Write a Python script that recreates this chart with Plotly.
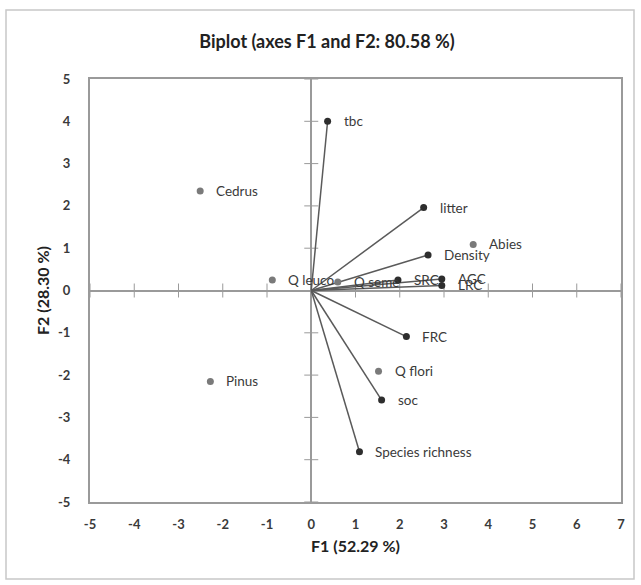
import plotly.graph_objects as go

# Variables (vectors from origin)
var_names = ["tbc", "litter", "Density", "SRC", "AGC", "LRC", "FRC", "soc", "Species richness"]
var_f1 = [0.37, 2.54, 2.64, 1.96, 2.95, 2.95, 2.15, 1.59, 1.09]
var_f2 = [4.00, 1.96, 0.84, 0.25, 0.27, 0.12, -1.09, -2.59, -3.81]

# Observations
obs_names = ["Cedrus", "Abies", "Q leuco", "Q seme", "Q flori", "Pinus"]
obs_f1 = [-2.51, 3.66, -0.88, 0.60, 1.52, -2.28]
obs_f2 = [2.35, 1.09, 0.25, 0.20, -1.91, -2.15]

x_ticks = list(range(-5, 8))
x_tick_labels = [str(v) for v in x_ticks]
y_ticks = list(range(-5, 6))
y_tick_labels = [str(v) for v in y_ticks]

title_text = "Biplot (axes F1 and F2: 80.58 %)"
x_title = "F1 (52.29 %)"
y_title = "F2 (28.30 %)"

FONT = "Lato"
AXIS_GREY = "#9a9a9a"
TXT = "#3a3a3a"

fig = go.Figure()

# tick crosses on zero lines
fig.add_trace(go.Scatter(x=[0] * len(y_ticks), y=y_ticks, mode="markers",
                         marker=dict(symbol="line-ew", size=10, line=dict(color=AXIS_GREY, width=1)),
                         hoverinfo="skip", showlegend=False))
fig.add_trace(go.Scatter(x=x_ticks, y=[0] * len(x_ticks), mode="markers",
                         marker=dict(symbol="line-ns", size=10, line=dict(color=AXIS_GREY, width=1)),
                         hoverinfo="skip", showlegend=False))

# vector lines
for n, a, b in zip(var_names, var_f1, var_f2):
    fig.add_trace(go.Scatter(x=[0, a], y=[0, b], mode="lines",
                             line=dict(color="#5a5a5a", width=1.5),
                             hoverinfo="skip", showlegend=False))

fig.add_trace(go.Scatter(x=obs_f1, y=obs_f2, mode="markers",
                         marker=dict(color="#7a7a7a", size=7),
                         text=obs_names, showlegend=False))
fig.add_trace(go.Scatter(x=var_f1, y=var_f2, mode="markers",
                         marker=dict(color="#2e2e2e", size=7),
                         text=var_names, showlegend=False))

for n, a, b in list(zip(var_names, var_f1, var_f2)) + list(zip(obs_names, obs_f1, obs_f2)):
    fig.add_annotation(x=a, y=b, text=n, showarrow=False, xanchor="left",
                       xshift=14, yshift=0, font=dict(family=FONT, size=13.5, color=TXT))

# outer border of the chart
fig.add_shape(type="rect", xref="paper", yref="paper",
              x0=(6 - 90) / 531, x1=(634 - 90) / 531,
              y0=(502 - 579) / 423, y1=(502 - 10) / 423,
              line=dict(color="#c8c8c8", width=1.5), layer="below")

fig.update_layout(
    width=641, height=585,
    margin=dict(l=90, r=20, t=79, b=83),
    paper_bgcolor="white", plot_bgcolor="white",
    title=dict(text="<b>" + title_text + "</b>", x=327 / 641, xanchor="center",
               y=1 - 42 / 585, yanchor="middle", font=dict(family=FONT, size=18, color="#222")),
    xaxis=dict(range=[-5, 7], tickvals=x_ticks, ticktext=x_tick_labels, showgrid=False, zeroline=True,
               zerolinecolor=AXIS_GREY, zerolinewidth=1.5, showline=True, mirror=True,
               linecolor=AXIS_GREY, linewidth=2, ticks="", ticklabelstandoff=9,
               tickfont=dict(family=FONT, size=13, color=TXT, weight="bold"),
               title=dict(text="<b>" + x_title + "</b>", standoff=10,
                          font=dict(family=FONT, size=16, color="#222"))),
    yaxis=dict(range=[-5, 5], tickvals=y_ticks, ticktext=y_tick_labels, showgrid=False, zeroline=True,
               zerolinecolor=AXIS_GREY, zerolinewidth=1.5, showline=True, mirror=True,
               linecolor=AXIS_GREY, linewidth=2, ticks="", ticklabelstandoff=15,
               tickfont=dict(family=FONT, size=13, color=TXT, weight="bold"),
               title=dict(text="<b>" + y_title + "</b>", standoff=4,
                          font=dict(family=FONT, size=16, color="#222"))),
)

fig.write_html("out.html", config={"displayModeBar": False},
               post_script="document.body.style.margin='0';")
